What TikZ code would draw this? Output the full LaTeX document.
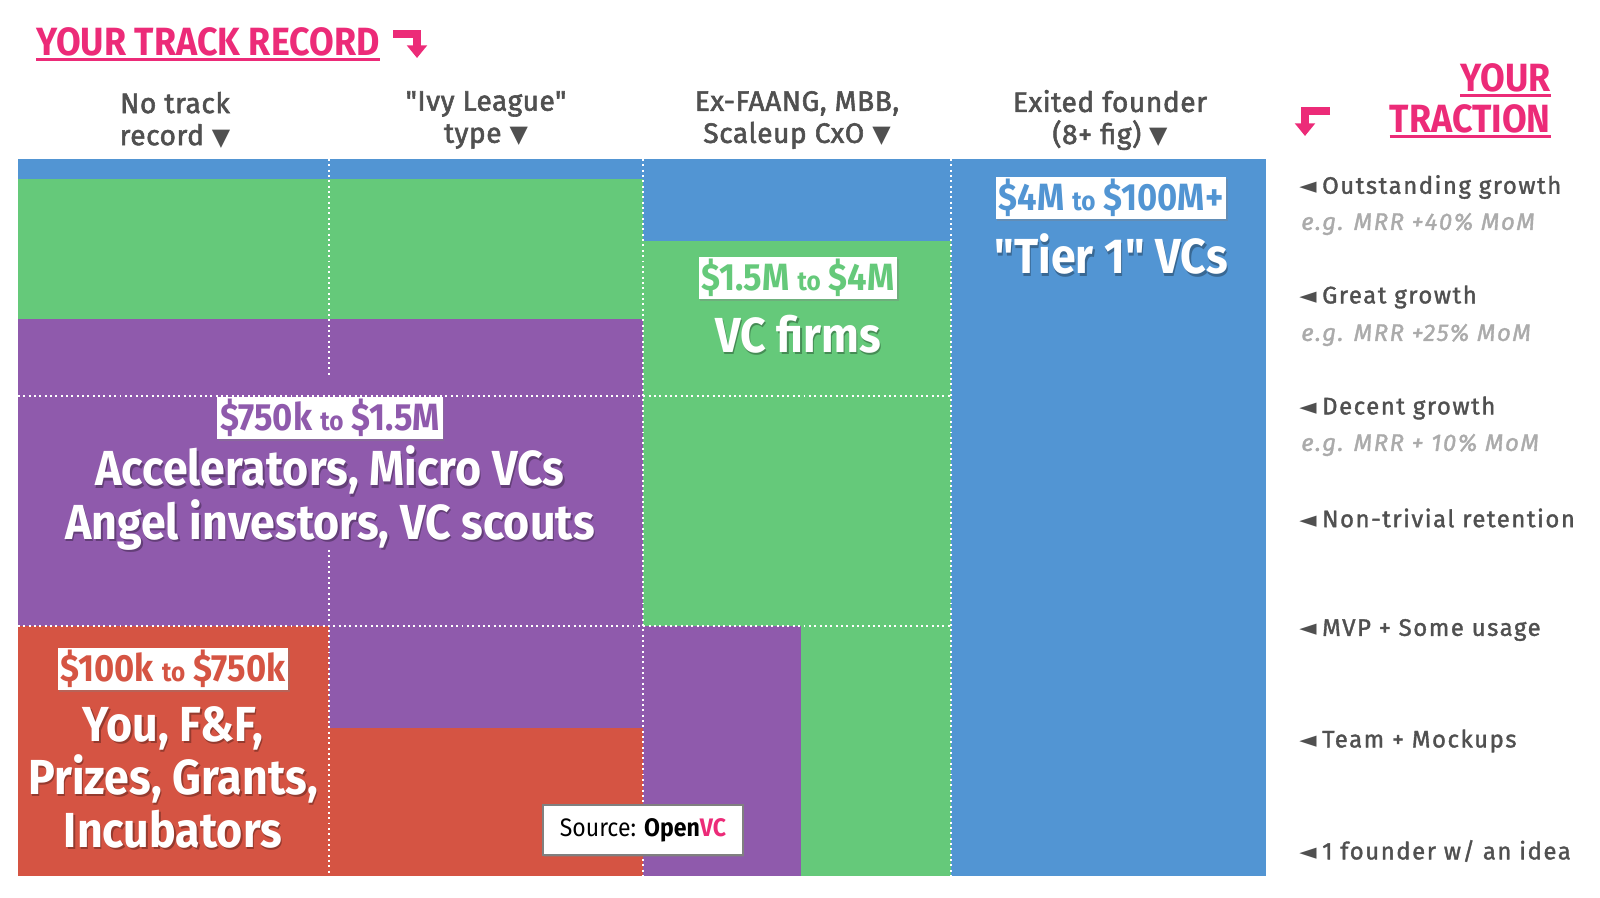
\documentclass[tikz,border=0pt]{standalone}
\usepackage{fontspec}
\setmainfont{Fira Sans}
\newfontfamily\condfont{Fira Sans}[FakeStretch=0.91]
\newfontfamily\hdrfont{Fira Sans}[FakeBold=2,LetterSpace=2]
\newfontfamily\widefont{Fira Sans}[LetterSpace=6.5,FakeBold=1.5]
\newfontfamily\symfont{DejaVu Sans}
\usetikzlibrary{arrows.meta,shadows}

\definecolor{vcblue}{HTML}{5295D3}
\definecolor{vcgreen}{HTML}{65C97A}
\definecolor{vcpurple}{HTML}{8F5AAC}
\definecolor{vcred}{HTML}{D55443}
\definecolor{vcpink}{HTML}{EC2B78}
\definecolor{hdrgray}{HTML}{505050}
\definecolor{eggray}{HTML}{ABABAB}

\tikzset{
  band/.style={fill=#1},
  gridline/.style={white,line width=1.4pt,dash pattern=on 1.4pt off 2.4pt},
  pricetag/.style={fill=white,text=#1,inner xsep=2pt,inner ysep=0pt,minimum height=30pt,
    font=\condfont\bfseries\fontsize{27}{27}\selectfont,
    drop shadow={shadow xshift=1pt,shadow yshift=-1.5pt,opacity=0.35}},
  kind/.style={text=white,align=center,inner sep=0pt,
    font=\condfont\bfseries\fontsize{35}{37.7}\selectfont},
  header/.style={text=hdrgray,align=center,inner sep=0pt,
    font=\hdrfont\fontsize{20}{22.8}\selectfont},
  bigtitle/.style={text=vcpink,inner sep=0pt,
    font=\condfont\bfseries\fontsize{28}{28}\selectfont},
  traction/.style={anchor=west,text=hdrgray,inner sep=0pt,
    font=\widefont\fontsize{17}{17}\selectfont},
  example/.style={anchor=west,text=eggray,inner sep=0pt,
    font=\widefont\itshape\fontsize{17}{17}\selectfont},
  pinkarrow/.style={vcpink,line width=5pt,-{Triangle[length=9pt,width=14pt]}},
  sourcebox/.style={fill=white,draw=gray,line width=0.8pt,minimum width=5cm,
    minimum height=1.25cm,font=\condfont\fontsize{18}{18}\selectfont,
    drop shadow={shadow xshift=1pt,shadow yshift=-1.5pt,opacity=0.35}}
}

\newcommand\tosmall{{\fontsize{19}{19}\selectfont to}}
\newcommand\pointer{{\symfont\fontsize{17}{17}\selectfont ▼}}
\newcommand\kindlabel[4]{%
  \node[kind,text=black,text opacity=0.3] (#1shade) at (#2+1.5,#3+2.5) {#4};
  \node[kind] (#1) at (#2,#3) {#4};}

\begin{document}
\begin{tikzpicture}[x=0.025cm,y=-0.025cm]
    \useasboundingbox (0,0) rectangle (1600,898);

    % bands of the chart
    \path[band=vcblue] (18,159) rectangle (1266,876);
    \path[band=vcgreen] (18,179) rectangle (643,319);
    \path[band=vcpurple] (18,319) rectangle (643,728);
    \path[band=vcred] (18,626) rectangle (329,876);
    \path[band=vcred] (329,728) rectangle (643,876);
    \path[band=vcgreen] (643,241) rectangle (951,876);
    \path[band=vcpurple] (643,626) rectangle (801,876);

    \draw[gridline] (329,159) -- (329,377);
    \draw[gridline] (329,550) -- (329,876);
    \foreach \x in {643,951}{
        \draw[gridline] (\x,159) -- (\x,876);
    }
    \foreach \y in {396,626}{
        \draw[gridline] (18,\y) -- (951,\y);
    }

    % track record
    \node[bigtitle,anchor=base west] (tracktitle) at (36,56) {YOUR TRACK RECORD};
    \draw[vcpink,line width=2.2pt] ([yshift=-2.8pt]tracktitle.base west) -- ([yshift=-2.8pt]tracktitle.base east);
    \coordinate (trackstart) at (393,34);
    \coordinate (tracktip) at (417,58);
    \draw[pinkarrow] (trackstart) -| (tracktip);

    \node[header] (hdrnone) at (175,120) {No track\\record \pointer};
    \node[header] (hdrivy) at (486,120) {"Ivy League"\\type \pointer};
    \node[header] (hdrfaang) at (797,120) {Ex-FAANG, MBB,\\Scaleup CxO \pointer};
    \node[header] (hdrexit) at (1110,120) {Exited founder\\(8+ fig) \pointer};

    % traction
    \node[bigtitle,anchor=base east] (yourtitle) at (1551,92) {YOUR};
    \node[bigtitle,anchor=base east] (tractiontitle) at (1551,133) {TRACTION};
    \draw[vcpink,line width=2.2pt] ([yshift=-2.8pt]yourtitle.base west) -- ([yshift=-2.8pt]yourtitle.base east);
    \draw[vcpink,line width=2.2pt] ([yshift=-2.8pt]tractiontitle.base west) -- ([yshift=-2.8pt]tractiontitle.base east);
    \coordinate (tractstart) at (1330,111);
    \coordinate (tracttip) at (1305,136);
    \draw[pinkarrow] (tractstart) -| (tracttip);

    \foreach \lbl/\yy [count=\i] in {Outstanding growth/187, Great growth/297, Decent growth/408,
        Non-trivial retention/518, MVP + Some usage/630, Team + Mockups/741, {1 founder w/ an idea}/851}{
        \node[traction] (traction\i) at (1299,\yy) {{\symfont\fontsize{16}{16}\selectfont ◄}\hspace{4pt}\lbl};
    }
    \foreach \pct/\yy [count=\i] in {+40\%/224, +25\%/335, + 10\%/445}{
        \node[example] (example\i) at (1301,\yy) {e.g. MRR \pct{} MoM};
    }

    % investors
    \node[pricetag=vcred] (seedtag) at (173,669) {\$100k \tosmall{} \$750k};
    \node[pricetag=vcpurple] (angeltag) at (330,418) {\$750k \tosmall{} \$1.5M};
    \node[pricetag=vcgreen] (vctag) at (798,278) {\$1.5M \tosmall{} \$4M};
    \node[pricetag=vcblue] (tiertag) at (1111,198) {\$4M \tosmall{} \$100M+};

    \kindlabel{seedkind}{173}{777}{You, F\&F,\\Prizes, Grants,\\Incubators}
    \kindlabel{angelkind}{330}{498}{Accelerators, Micro VCs\\Angel investors, VC scouts}
    \kindlabel{vckind}{798}{334}{VC firms}
    \kindlabel{tierkind}{1111}{254}{"Tier 1" VCs}

    \node[sourcebox] (source) at (643,830) {Source: \textbf{Open\textcolor{vcpink}{VC}}};
\end{tikzpicture}
\end{document}
